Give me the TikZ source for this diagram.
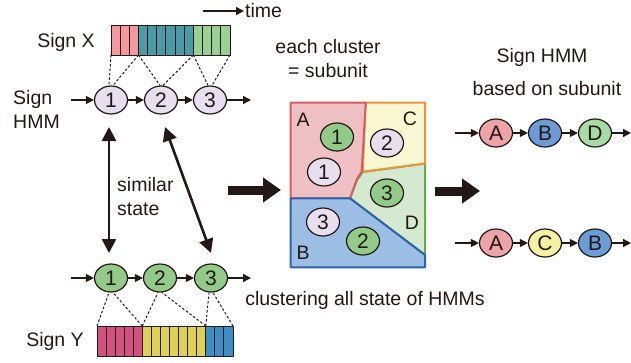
\documentclass[tikz,border=0pt]{standalone}
\usepackage{fontspec}
\setmainfont{Liberation Sans}
\usetikzlibrary{arrows.meta,shapes.geometric}

\definecolor{ink}{HTML}{231815}
\definecolor{xpink}{HTML}{F3999D}
\definecolor{xteal}{HTML}{4D9AA7}
\definecolor{xgreen}{HTML}{9ACF95}
\definecolor{ymag}{HTML}{D1527F}
\definecolor{yyel}{HTML}{DDD256}
\definecolor{yblue}{HTML}{3D8DC6}
\definecolor{lav}{HTML}{E8DFEE}
\definecolor{grn}{HTML}{92CB88}
\definecolor{afill}{HTML}{EFC0C3}
\definecolor{aline}{HTML}{DA5B5E}
\definecolor{cfill}{HTML}{FAF8D2}
\definecolor{cline}{HTML}{E9933A}
\definecolor{dfill}{HTML}{D5E8D0}
\definecolor{dline}{HTML}{5DAE4C}
\definecolor{bfill}{HTML}{9CBEE4}
\definecolor{bline}{HTML}{2F62AC}
\definecolor{ra}{HTML}{EDA3A8}
\definecolor{rb}{HTML}{6B9CD8}
\definecolor{rd}{HTML}{A7DAA4}
\definecolor{rc}{HTML}{F5F2A3}

\tikzset{
	lbl/.style={text=ink, inner sep=1pt, font=\fontsize{19.5}{24}\selectfont},
	state/.style={ellipse, draw=ink, line width=1.2pt, minimum width=33pt, minimum height=28pt, inner sep=0pt, text=ink, font=\fontsize{21}{22}\selectfont},
	cellbox/.style={draw=ink, line width=0.9pt},
	flow/.style={draw=ink, line width=1.3pt, -{Triangle[length=8pt,width=8pt]}},
	dotline/.style={draw=ink, line width=1pt, dash pattern=on 2.5pt off 2pt},
	simarrow/.style={draw=ink, line width=2.6pt, {Triangle[length=14pt,width=14pt]}-{Triangle[length=14pt,width=14pt]}},
	bigarrow/.style={draw=ink, line width=9pt, -{Triangle[length=18pt,width=24pt]}},
	region/.style={line width=2pt, line join=round}
}

\begin{document}
\begin{tikzpicture}[x=1pt, y=-1pt]
		%%%%% START %%%%%
		\useasboundingbox (0,0) rectangle (631,362);
		
		% time axis
		\node[lbl, anchor=west] (time) at (244,11) {time};
		\coordinate (tstart) at (203,11);
		\draw[flow, line width=1.6pt] (tstart) -- (time.west);
		
		% sign X frames
		\node[lbl] (signx) at (66,42) {Sign X};
		\foreach \i in {0,...,2} \draw[cellbox, fill=xpink] ({111+\i*9.154},25) rectangle ++(9.154,30);
		\foreach \i in {3,...,8} \draw[cellbox, fill=xteal] ({111+\i*9.154},25) rectangle ++(9.154,30);
		\foreach \i in {9,...,12} \draw[cellbox, fill=xgreen] ({111+\i*9.154},25) rectangle ++(9.154,30);
		\coordinate (x0) at (111,55);
		\coordinate (x1) at (138.5,55);
		\coordinate (x2) at (193.4,55);
		\coordinate (x3) at (230,55);
		
		% sign X HMM
		\node[lbl, align=left, anchor=west] (signhmm) at (12,109) {Sign\\HMM};
		\node[state, fill=lav] (s1) at (111,100) {1};
		\node[state, fill=lav] (s2) at (161,100) {2};
		\node[state, fill=lav] (s3) at (210,100) {3};
		\coordinate (sxin) at (71,100);
		\coordinate (sxout) at (251,100);
		\draw[flow] (sxin) -- (s1);
		\draw[flow] (s1) -- (s2);
		\draw[flow] (s2) -- (s3);
		\draw[flow] (s3) -- (sxout);
		
		\draw[dotline] (x0) -- ([xshift=-2pt]s1.north);
		\draw[dotline] (x1) -- ([xshift=2pt]s1.north);
		\draw[dotline] (x1) -- ([xshift=-1pt]s2.north);
		\draw[dotline] (x2) -- ([xshift=2pt]s2.north);
		\draw[dotline] (x2) -- ([xshift=-2pt]s3.north);
		\draw[dotline] (x3) -- ([xshift=2pt]s3.north);
		
		% similar state
		\coordinate (sa1) at (109,127);
		\coordinate (sa2) at (109,253);
		\coordinate (sb1) at (165,127);
		\coordinate (sb2) at (211,253);
		\draw[simarrow] (sa1) -- (sa2);
		\draw[simarrow] (sb1) -- (sb2);
		\node[lbl, align=left, anchor=west] (similar) at (116,197) {similar\\state};
		
		% sign Y HMM
		\node[state, fill=grn] (t1) at (111,278) {1};
		\node[state, fill=grn] (t2) at (160,278) {2};
		\node[state, fill=grn] (t3) at (211,278) {3};
		\coordinate (syin) at (71,278);
		\coordinate (syout) at (251,278);
		\draw[flow] (syin) -- (t1);
		\draw[flow] (t1) -- (t2);
		\draw[flow] (t2) -- (t3);
		\draw[flow] (t3) -- (syout);
		
		% sign Y frames
		\node[lbl] (signy) at (55,341) {Sign Y};
		\foreach \i in {0,...,4} \draw[cellbox, fill=ymag] ({97+\i*9.067},326) rectangle ++(9.067,30);
		\foreach \i in {5,...,11} \draw[cellbox, fill=yyel] ({97+\i*9.067},326) rectangle ++(9.067,30);
		\foreach \i in {12,...,14} \draw[cellbox, fill=yblue] ({97+\i*9.067},326) rectangle ++(9.067,30);
		\coordinate (y0) at (97,326);
		\coordinate (y1) at (142.3,326);
		\coordinate (y2) at (205.8,326);
		\coordinate (y3) at (233,326);
		
		\draw[dotline] (y0) -- ([xshift=-2pt]t1.south);
		\draw[dotline] (y1) -- ([xshift=2pt]t1.south);
		\draw[dotline] (y1) -- ([xshift=-2pt]t2.south);
		\draw[dotline] (y2) -- ([xshift=2pt]t2.south);
		\draw[dotline] (y2) -- ([xshift=-2pt]t3.south);
		\draw[dotline] (y3) -- ([xshift=2pt]t3.south);
		
		% to the clusters
		\coordinate (ba1) at (228,190);
		\coordinate (ba2) at (281,190);
		\draw[bigarrow] (ba1) -- (ba2);
		
		% clusters
		\node[lbl, align=center] (each) at (328,59) {each cluster\\= subunit};
		\draw[region, fill=dfill, draw=dline] (362.7,172) -- (425,163.5) -- (425,255) -- (350,198.3) -- (357,180) -- cycle;
		\draw[region, fill=cfill, draw=cline] (365.7,102.7) -- (425,102.7) -- (425,163.5) -- (362.7,171.7) -- cycle;
		\draw[region, fill=afill, draw=aline] (290.7,102.7) -- (365.7,102.7) -- (361.7,171.7) -- (357,179) -- (350,198.3) -- (290.7,198.3) -- cycle;
		\draw[region, fill=bfill, draw=bline] (290.7,198.3) -- (350,198.3) -- (425,255) -- (425,267.3) -- (290.7,267.3) -- cycle;
		
		\node[lbl] (la) at (303,120) {A};
		\node[lbl] (lc) at (410,119) {C};
		\node[lbl] (ld) at (412,223) {D};
		\node[lbl] (lb) at (303,253) {B};
		\node[state, fill=grn] (g1) at (337,137) {1};
		\node[state, fill=lav] (l1) at (324,172) {1};
		\node[state, fill=lav] (l2) at (387,143) {2};
		\node[state, fill=grn] (g3) at (387,193) {3};
		\node[state, fill=lav] (l3) at (323,222) {3};
		\node[state, fill=grn] (g2) at (363,241) {2};
		
		\node[lbl] (clust) at (365,300) {clustering all state of HMMs};
		
		% to the subunit HMMs
		\coordinate (bb1) at (435,191);
		\coordinate (bb2) at (480,191);
		\draw[bigarrow] (bb1) -- (bb2);
		
		\node[lbl] (signhmm2) at (542,57) {Sign HMM};
		\node[lbl] (based) at (547,89) {based on subunit};
		
		\node[state, fill=ra] (ua) at (496,133) {A};
		\node[state, fill=rb] (ub) at (545,133) {B};
		\node[state, fill=rd] (ud) at (595,133) {D};
		\coordinate (uin) at (455,133);
		\coordinate (uout) at (631,133);
		\draw[flow] (uin) -- (ua);
		\draw[flow] (ua) -- (ub);
		\draw[flow] (ub) -- (ud);
		\draw[flow] (ud) -- (uout);
		
		\node[state, fill=ra] (va) at (496,243) {A};
		\node[state, fill=rc] (vc) at (545,243) {C};
		\node[state, fill=rb] (vb) at (595,243) {B};
		\coordinate (vin) at (455,243);
		\coordinate (vout) at (631,243);
		\draw[flow] (vin) -- (va);
		\draw[flow] (va) -- (vc);
		\draw[flow] (vc) -- (vb);
		\draw[flow] (vb) -- (vout);
		
		%%%%% END %%%%%
\end{tikzpicture}
\end{document}
